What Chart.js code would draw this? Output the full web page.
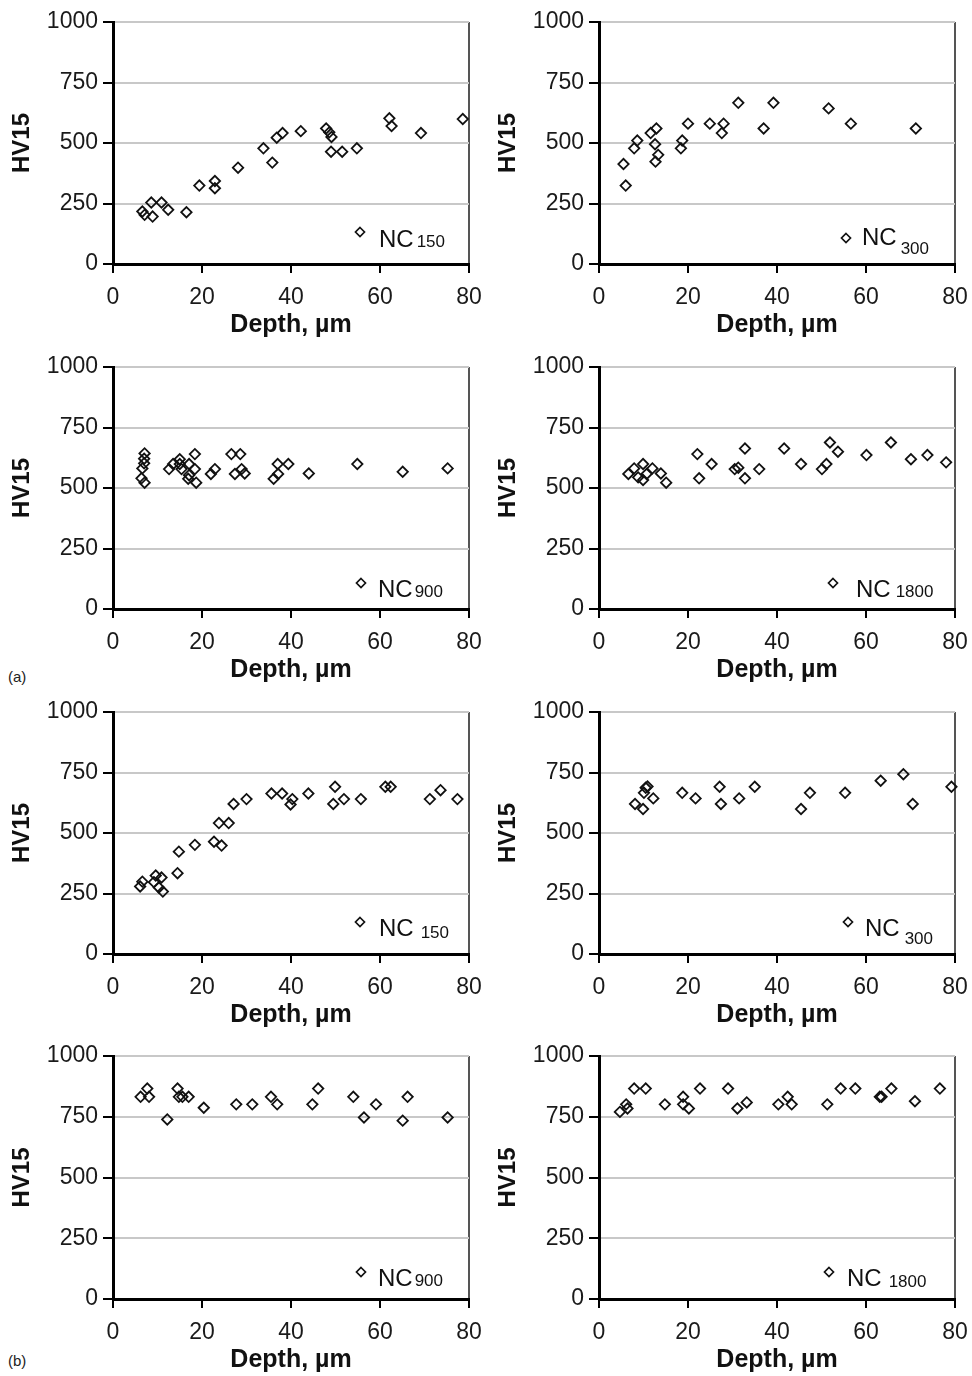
<!DOCTYPE html>
<html><head><meta charset="utf-8">
<script src="https://cdn.jsdelivr.net/npm/chart.js@4.4.1/dist/chart.umd.min.js"></script>
<style>
html,body{margin:0;padding:0;background:#fff;}
body{width:972px;height:1376px;position:relative;overflow:hidden;font-family:"Liberation Sans",Arial,sans-serif;}
canvas{position:absolute;}
.tag{position:absolute;left:8px;font-size:15px;line-height:18px;color:#222;}
</style></head><body>
<div class="tag" style="top:668px">(a)</div>
<div class="tag" style="top:1352px">(b)</div>
<script>
// ---------- tick labels ----------
const xTicks = [0, 20, 40, 60, 80];
const yTicks = [0, 250, 500, 750, 1000];

// ---------- (a) series ----------
const depthA150 = [6.6,7.1,8.6,8.9,10.9,12.4,16.5,19.4,22.9,22.9,28.1,33.8,35.8,36.8,38.1,42.2,47.9,48.6,49.1,49.0,51.5,54.8,62.1,62.6,69.2,78.6];
const hvA150    = [217,203,254,196,254,224,214,324,343,313,398,478,419,522,541,549,560,544,525,464,464,478,602,570,541,599];

const depthA300 = [5.5,6.0,7.9,8.6,11.6,12.9,12.6,13.3,12.7,18.4,18.7,20.0,24.9,28.0,27.6,31.3,37.0,39.2,51.6,56.6,71.2];
const hvA300    = [413,324,478,510,541,560,495,451,423,478,510,580,580,580,541,666,560,666,643,580,560];

const depthA900 = [7.1,7.0,7.0,6.6,6.4,7.1,12.6,13.5,15.0,15.0,15.4,17.1,17.1,16.9,18.4,18.4,18.7,22.0,22.9,26.6,28.6,27.4,28.9,29.6,36.1,37.1,37.0,39.4,44.0,54.9,65.1,75.2];
const hvA900    = [643,621,602,581,540,522,578,599,619,599,578,599,553,538,640,578,522,558,578,640,640,558,578,560,538,558,599,599,560,599,567,581];

const depthA1800 = [6.6,7.9,8.8,9.9,9.9,10.7,12.0,13.9,15.1,22.1,22.5,25.3,30.5,31.3,32.8,32.8,36.0,41.6,45.4,50.1,51.1,51.9,53.7,60.1,65.6,70.1,73.8,78.0];
const hvA1800    = [558,581,544,599,533,558,581,560,522,640,540,599,578,584,663,540,578,663,599,578,599,688,650,636,688,619,636,606];

// ---------- (b) series ----------
const depthB150 = [6.1,6.6,9.2,9.6,10.3,10.9,11.2,14.5,14.8,18.4,22.7,24.4,23.8,26.0,27.1,30.0,35.6,38.0,39.9,40.3,43.9,49.5,49.9,51.9,55.7,61.2,62.4,71.2,73.6,77.4];
const hvB150    = [279,299,297,324,275,316,258,334,423,451,464,448,541,541,620,640,663,663,618,640,663,620,691,640,640,691,691,640,677,640];

const depthB300 = [8.1,9.9,10.1,10.5,10.9,12.2,18.7,21.7,27.1,27.4,31.5,35.0,45.4,47.4,55.3,63.3,68.4,70.5,79.2];
const hvB300    = [620,599,666,687,692,643,666,643,691,620,643,691,599,666,666,716,743,620,691];

const depthB900 = [6.2,7.7,8.1,12.2,14.5,14.8,15.6,17.0,20.4,27.7,31.3,35.5,36.9,44.8,46.1,54.0,56.4,59.1,65.1,66.2,75.2];
const hvB900    = [832,866,832,739,866,832,832,832,787,801,801,832,801,801,866,832,747,801,734,832,747];

const depthB1800 = [4.7,6.1,6.4,7.9,10.5,14.8,18.9,18.9,20.2,22.7,29.0,31.1,33.2,40.3,42.4,43.3,51.3,54.3,57.6,63.1,63.5,65.7,71.0,76.6];
const hvB1800    = [770,801,784,866,866,801,832,801,784,866,866,784,809,801,832,801,801,866,866,832,832,866,814,866];

// ---------- series names ----------
const seriesMain = ['NC','NC','NC','NC','NC','NC','NC','NC'];
const seriesSub  = ['150','300','900','1800','150','300','900','1800'];

// ---------- layout (positions only) ----------
const FONT = '"Liberation Sans", Arial, Helvetica, sans-serif';
const panels = [
  {d: depthA150,  v: hvA150},
  {d: depthA300,  v: hvA300},
  {d: depthA900,  v: hvA900},
  {d: depthA1800, v: hvA1800},
  {d: depthB150,  v: hvB150},
  {d: depthB300,  v: hvB300},
  {d: depthB900,  v: hvB900},
  {d: depthB1800, v: hvB1800}
];
const boxes = [
  {L:113,T:22,R:469,B:264},{L:599,T:22,R:955,B:264},
  {L:113,T:367,R:469,B:609},{L:599,T:367,R:955,B:609},
  {L:113,T:712,R:469,B:954},{L:599,T:712,R:955,B:954},
  {L:113,T:1056,R:469,B:1299},{L:599,T:1056,R:955,B:1299}
];
const legendPos = [
  {mx:247,my:210,tx:266,ty:225,gap:3,dy:0},
  {mx:247,my:216,tx:263,ty:223,gap:4,dy:9},
  {mx:248,my:216,tx:265,ty:230,gap:2,dy:0},
  {mx:234,my:216,tx:257,ty:230,gap:5,dy:0},
  {mx:247,my:210,tx:266,ty:224,gap:7,dy:2},
  {mx:249,my:210,tx:266,ty:224,gap:5,dy:8},
  {mx:248,my:216,tx:265,ty:230,gap:2,dy:0},
  {mx:230,my:216,tx:248,ty:230,gap:7,dy:1}
];

const insetLegend = {
  id: 'insetLegend',
  afterDatasetsDraw(chart, args, o) {
    const a = chart.chartArea, ctx = chart.ctx;
    ctx.save();
    const mx = a.left + o.mx, my = a.top + o.my, r = 4.5;
    ctx.beginPath();
    ctx.moveTo(mx, my - r); ctx.lineTo(mx + r, my); ctx.lineTo(mx, my + r); ctx.lineTo(mx - r, my);
    ctx.closePath();
    ctx.lineWidth = 1.7; ctx.strokeStyle = '#111'; ctx.stroke();
    ctx.fillStyle = '#111'; ctx.textAlign = 'left'; ctx.textBaseline = 'alphabetic';
    ctx.font = '24px ' + FONT;
    ctx.fillText(o.main, a.left + o.tx, a.top + o.ty);
    const w = ctx.measureText(o.main).width;
    ctx.font = '17px ' + FONT;
    ctx.fillText(o.sub, a.left + o.tx + w + o.gap, a.top + o.ty + o.dy);
    ctx.restore();
  }
};

const PAD_R = 25;
panels.forEach((p, i) => {
  const b = boxes[i];
  const CL = b.L < 486 ? 0 : 486;
  const CW = b.R + PAD_R - CL;
  const CT = b.T - 22, CH = b.B - CT + 76;
  const cv = document.createElement('canvas');
  cv.width = CW; cv.height = CH;
  cv.style.left = CL + 'px'; cv.style.top = CT + 'px';
  cv.style.width = CW + 'px'; cv.style.height = CH + 'px';
  document.body.appendChild(cv);
  const lp = Object.assign({main: seriesMain[i], sub: seriesSub[i]}, legendPos[i]);
  new Chart(cv, {
    type: 'scatter',
    data: {datasets: [{
      label: seriesMain[i] + seriesSub[i],
      data: p.d.map((x, k) => ({x: x, y: p.v[k]})),
      pointStyle: 'rectRot', pointRadius: 5.2, pointHoverRadius: 5.2,
      borderColor: '#111', backgroundColor: 'rgba(255,255,255,0)',
      pointBorderWidth: 1.8, borderWidth: 1.8, clip: false, showLine: false
    }]},
    options: {
      responsive: false, animation: false, devicePixelRatio: 1,
      layout: {padding: {left: 0, top: b.T - CT, right: PAD_R, bottom: 0}},
      plugins: {legend: {display: false}, tooltip: {enabled: false}, insetLegend: lp},
      scales: {
        x: {
          type: 'linear', min: 0, max: 80,
          afterBuildTicks: s => { s.ticks = xTicks.map(v => ({value: v})); },
          afterFit: s => { s.height = CH - (b.B - CT); },
          grid: {drawOnChartArea: true,
                 color: c => (c.tick && c.tick.value === 80) ? '#555' : 'rgba(0,0,0,0)',
                 lineWidth: 2, tickColor: '#000', tickWidth: 2, tickLength: 9},
          border: {color: '#000', width: 3},
          ticks: {padding: 11, color: '#1a1a1a', font: {family: FONT, size: 23}, maxRotation: 0, autoSkip: false,
                  callback: v => String(v)},
          title: {display: true, text: 'Depth, µm', color: '#111', font: {family: FONT, size: 25, weight: 'bold'}, padding: {top: 0, bottom: 0}}
        },
        y: {
          type: 'linear', min: 0, max: 1000,
          afterBuildTicks: s => { s.ticks = yTicks.map(v => ({value: v})); },
          afterFit: s => { s.width = b.L - CL; },
          grid: {color: '#c8c8c8', lineWidth: 2, tickColor: '#000', tickWidth: 2, tickLength: 10},
          border: {color: '#000', width: 3},
          ticks: {padding: 5, color: '#1a1a1a', font: {family: FONT, size: 23}, autoSkip: false,
                  callback: v => String(v)},
          title: {display: true, text: 'HV15', color: '#111', font: {family: FONT, size: 24, weight: 'bold'}, padding: {top: 8, bottom: 0}}
        }
      }
    },
    plugins: [insetLegend]
  });
});
</script>
</body></html>
